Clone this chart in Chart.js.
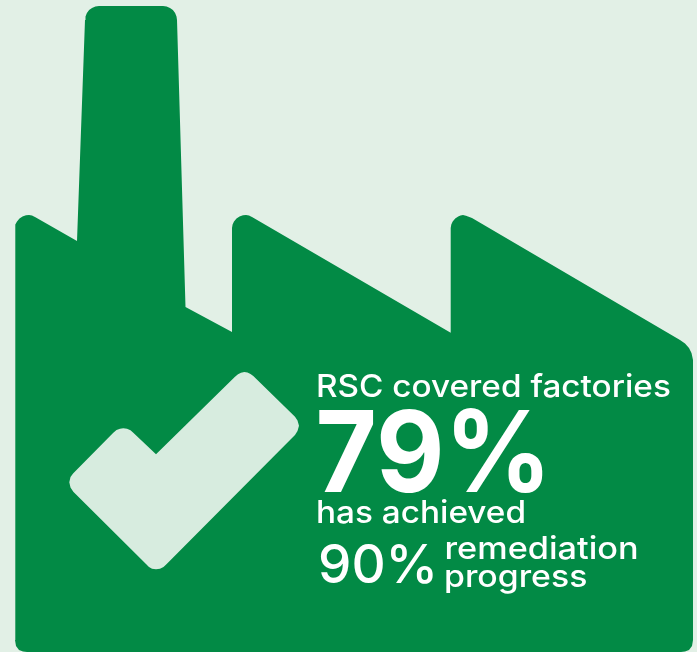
<!DOCTYPE html>
<html>
<head>
<meta charset="utf-8">
<style>
html,body{margin:0;padding:0;background:#e2f0e6;width:697px;height:652px;overflow:hidden}
canvas{display:block}
</style>
<script src="https://cdn.jsdelivr.net/npm/chart.js@4/dist/chart.umd.min.js"></script>
</head>
<body>
<canvas id="c" width="697" height="652"></canvas>
<script>
const factoryX = [15,15,15.6,17,19.5,22.5,26,29,32,35,77,85,85.5,86.9,89.1,92,95.4,99,163,166.6,170,172.9,175.1,176.5,177,185.5,232,232,232.6,234,236.5,239.5,243,246,249,252,450.7,450.7,451.3,452.7,455.2,458.2,460.5,463,466,472,680,685,689,691.5,693,693,692,689,685,681,27,23,19,16,15];
const factoryY = [640,228,224.5,221.5,218.5,216.5,215.3,215,215.6,217,241,20,16.4,13,10.1,7.9,6.5,6,6,6.5,7.9,10.1,13,16.4,20,307,332,228,224.5,221.5,218.5,216.5,215.3,215,215.6,217,332.7,228,224.5,221.5,218.5,216.5,215.5,215,215.7,218,340,343.5,348,353,360,640,646,650,651.6,652,652,651.6,650,646,640];
const checkX = [156,235,238,241,244.3,247.5,250.5,253.3,295,297.5,299,297.5,295,166.7,163.5,160,156,152,149,146,73.3,70.5,69.3,70.5,73.3,113.3,116.5,120,123.3,127,130.5,133.3];
const checkY = [454.3,376.7,374.2,372.8,372,372.6,374,376,416.7,420.5,425.7,431,435,564,567,568.8,569.3,568.8,567,564,491.7,487.5,482.3,477,473.3,432.7,430,428.8,428.3,428.8,430.2,432.7];
const textLabels = ['RSC covered factories','79%','has achieved','90%','remediation','progress'];
const textX = [316,315.5,316,318,444.5,444];
const textY = [397,492,523,583,559,587];
const textSize = [31,113,31,53,31,31];
const textWeight = [500,650,500,550,500,500];
const textStretch = [1.074,0.935,1.075,1,1.105,1.09];

const toPoints = (xs,ys)=>xs.map((x,i)=>({x,y:ys[i]}));
const textPlugin = {
  id:'texts',
  afterDatasetsDraw(chart){
    const {ctx,scales:{x,y}} = chart;
    ctx.fillStyle='#ffffff';
    ctx.textBaseline='alphabetic';
    ctx.textAlign='left';
    textLabels.forEach((t,i)=>{
      ctx.save();
      ctx.font=`${textWeight[i]} ${textSize[i]}px Inter, sans-serif`;
      ctx.translate(x.getPixelForValue(textX[i]),y.getPixelForValue(textY[i]));
      ctx.scale(textStretch[i],1);
      ctx.fillText(t,0,0);
      ctx.restore();
    });
  }
};
new Chart(document.getElementById('c'),{
  type:'scatter',
  data:{datasets:[
    {label:'Check',order:1,data:toPoints(checkX,checkY),showLine:true,fill:'shape',backgroundColor:'#d7ecdf',borderColor:'#d7ecdf',borderWidth:0,pointRadius:0,tension:0},
    {label:'Factory',order:2,data:toPoints(factoryX,factoryY),showLine:true,fill:'shape',backgroundColor:'#028a45',borderColor:'#028a45',borderWidth:0,pointRadius:0,tension:0}
  ]},
  options:{
    responsive:false,animation:false,devicePixelRatio:1,
    layout:{padding:0},
    plugins:{legend:{display:false},title:{display:false},tooltip:{enabled:false},filler:{propagate:false}},
    scales:{
      x:{type:'linear',min:0,max:697,display:false},
      y:{type:'linear',min:0,max:652,reverse:true,display:false}
    }
  },
  plugins:[textPlugin]
});
</script>
</body>
</html>
